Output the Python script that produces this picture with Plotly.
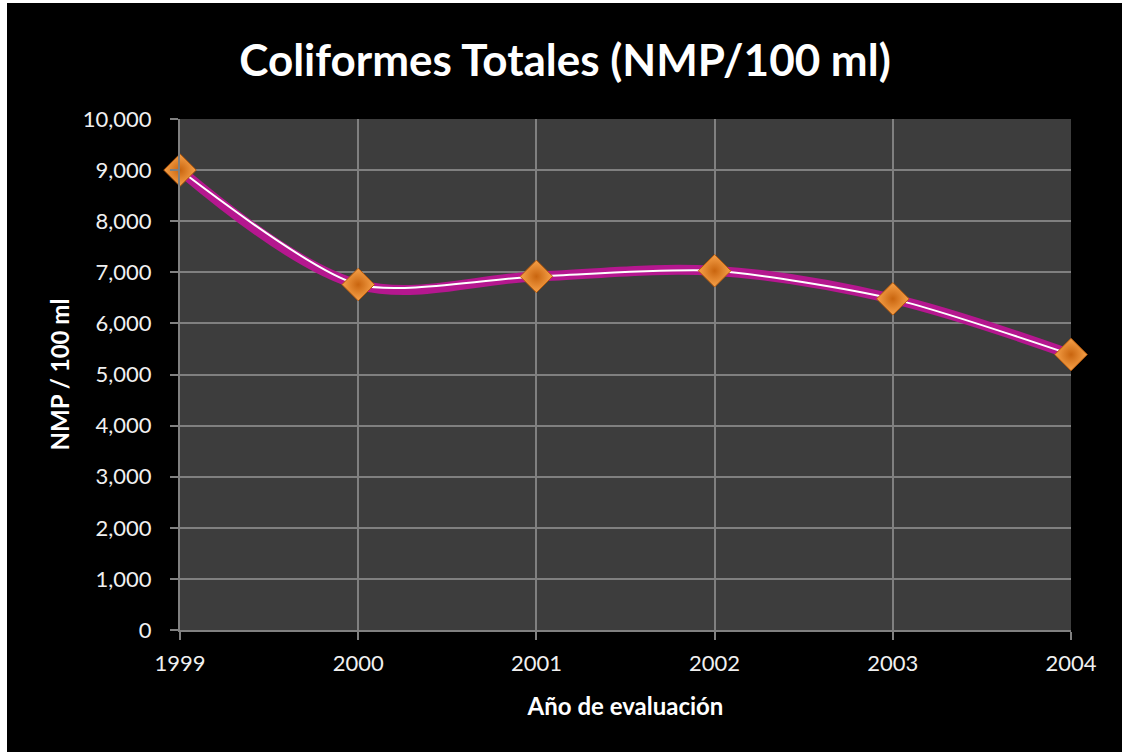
import plotly.graph_objects as go

years = [1999, 2000, 2001, 2002, 2003, 2004]
nmp = [9000, 6760, 6920, 7030, 6480, 5390]
y_ticks = [0, 1000, 2000, 3000, 4000, 5000, 6000, 7000, 8000, 9000, 10000]
y_tick_text = ["0", "1,000", "2,000", "3,000", "4,000", "5,000", "6,000", "7,000", "8,000", "9,000", "10,000"]

W, H = 1122, 752
L, R, T, B = 180, 51, 119, 122

fig = go.Figure()
fig.add_trace(go.Scatter(
    x=years, y=nmp, mode="lines",
    line=dict(color="#b5178f", width=10, shape="spline", smoothing=1.0),
    hoverinfo="skip", showlegend=False, cliponaxis=False))
fig.add_trace(go.Scatter(
    x=years, y=nmp, mode="lines+markers",
    line=dict(color="#ffffff", width=2, shape="spline", smoothing=0.7),
    marker=dict(symbol="diamond", size=25, color="#f7a24a",
                gradient=dict(type="radial", color="#c9650f"),
                line=dict(color="#b85a0c", width=1)),
    showlegend=False, cliponaxis=False))

pw = W - L - R
ph = H - T - B
fig.update_layout(
    width=W, height=H,
    margin=dict(l=L, r=R, t=T, b=B),
    paper_bgcolor="#000000", plot_bgcolor="#3d3d3d",
    title=dict(text="<b>Coliformes Totales (NMP/100 ml)</b>", x=(565 - L) / pw, xref="paper",
               xanchor="center", y=1 - 61 / H, yanchor="middle",
               font=dict(family="Lato", size=44, color="#ffffff")),
    font=dict(family="Lato", color="#f0f0f0"),
    xaxis=dict(range=[1999, 2004], tickvals=years, ticktext=[str(v) for v in years],
               showgrid=True, gridcolor="#808080", gridwidth=2,
               showline=True, linecolor="#808080", linewidth=2,
               ticks="outside", ticklen=8, tickwidth=2, tickcolor="#808080",
               ticklabelstandoff=5,
               tickfont=dict(size=22, color="#f0f0f0"), zeroline=False,
               title=dict(text="<b>Año de evaluación</b>", font=dict(size=24, color="#ffffff"), standoff=23)),
    yaxis=dict(range=[0, 10000], tickvals=y_ticks, ticktext=y_tick_text,
               showgrid=True, gridcolor="#808080", gridwidth=2,
               showline=True, linecolor="#808080", linewidth=2,
               ticks="outside", ticklen=8, tickwidth=2, tickcolor="#808080",
               ticklabelstandoff=14,
               tickfont=dict(size=22, color="#f0f0f0"), zeroline=False,
               title=dict(text="<b>NMP / 100 ml</b>", font=dict(size=24, color="#ffffff"), standoff=6)),
    shapes=[
        dict(type="rect", xref="paper", yref="paper", layer="above",
             x0=-L / pw, x1=(W - L) / pw, y0=(H - T) / ph + 0.01, y1=(H - T - 6) / ph,
             fillcolor="#ffffff", line=dict(width=0)),
        dict(type="rect", xref="paper", yref="paper", layer="above",
             x0=-L / pw - 0.01, x1=(7 - L) / pw, y0=-B / ph - 0.01, y1=(H - B) / ph + 0.01,
             fillcolor="#ffffff", line=dict(width=0)),
    ],
)
fig.write_html("out.html")
